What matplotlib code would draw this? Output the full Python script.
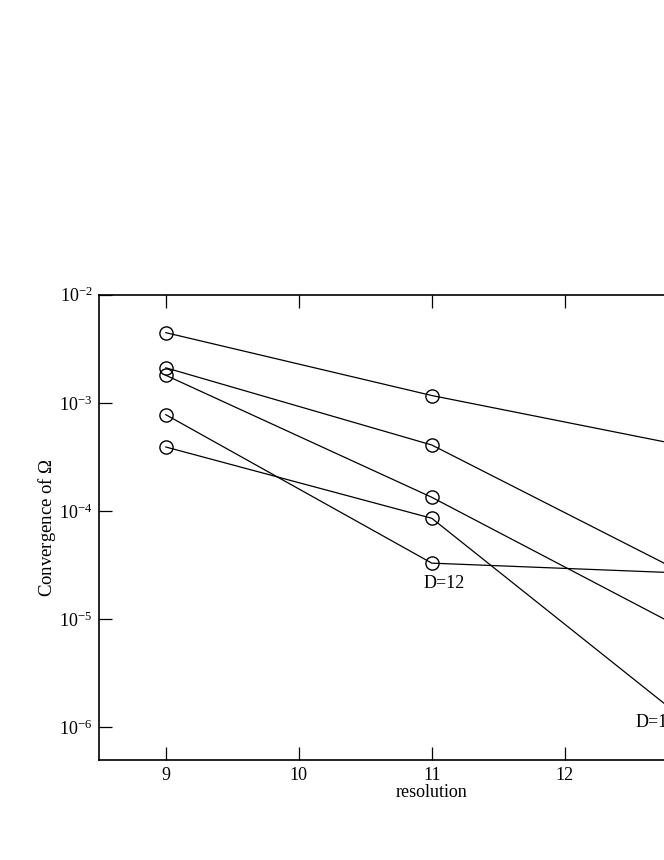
import matplotlib
matplotlib.use("Agg")
import matplotlib.pyplot as plt

plt.rcParams['font.family'] = ['Liberation Serif', 'DejaVu Serif']
plt.rcParams['mathtext.fontset'] = 'custom'
plt.rcParams['mathtext.rm'] = 'Liberation Serif'
plt.rcParams['axes.unicode_minus'] = False

# resolution values and convergence of Omega for each run
resolution = [9, 11, 13]
run_a = [4.46e-3, 1.17e-3, 3.79e-4]
run_b = [2.11e-3, 4.08e-4, 2.29e-5]
run_c = [1.80e-3, 1.34e-4, 6.90e-6]
run_d12 = [7.78e-4, 3.30e-5, 2.64e-5]
run_d16 = [3.91e-4, 8.57e-5, 9.42e-7]
all_runs = [run_a, run_b, run_c, run_d12, run_d16]

xticks = [9, 10, 11, 12, 13]
xtick_labels = ['9', '10', '11', '12', '']  # 13 falls outside the crop
yticks = [1e-2, 1e-3, 1e-4, 1e-5, 1e-6]
ytick_labels = [r'$\mathregular{10^{-%d}}$' % k for k in range(2, 7)]

fig = plt.figure(figsize=(6.64, 8.6), dpi=100)
# axes run past the right edge of the picture, as in the original crop
ax = fig.add_axes([0.1496, 0.1163, 1.0015, 0.541])

for run in all_runs:
    ax.plot(resolution, run, color='black', lw=0.9, marker='o', ms=9.5,
            mfc='none', mec='black', mew=1.0)

ax.set_yscale('log')
ax.set_xlim(8.5, 13.5)
ax.set_ylim(5e-7, 1e-2)

ax.set_xticks(xticks)
ax.set_xticklabels(xtick_labels)
ax.set_yticks(yticks)
ax.set_yticklabels(ytick_labels)
ax.yaxis.set_minor_locator(matplotlib.ticker.NullLocator())
ax.tick_params(which='major', direction='in', length=9.5, width=0.9,
               top=True, right=True, labelsize=13, pad=5)

for s in ax.spines.values():
    s.set_linewidth(1.2)

ax.set_xlabel('resolution', fontsize=13, labelpad=0)
ax.set_ylabel(r'Convergence of $\Omega$', fontsize=13.5, labelpad=1)

ax.text(10.935, 2.16e-5, 'D=12', fontsize=13, ha='left', va='center')
ax.text(12.53, 1.1e-6, 'D=16', fontsize=13, ha='left', va='center')

fig.savefig('out.png', dpi=100)
